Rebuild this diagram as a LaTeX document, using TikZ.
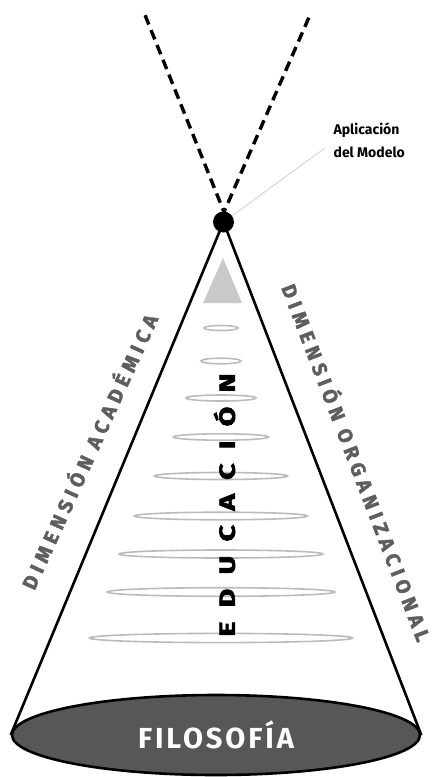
\documentclass[tikz,border=0pt]{standalone}
\usepackage{fontspec}
\setsansfont{Fira Sans}
\usetikzlibrary{positioning, shapes.geometric, calc}
\definecolor{cdark}{HTML}{575757}
\definecolor{cgrey}{HTML}{5E5E5E}
\definecolor{cring}{HTML}{BBBBBB}
\definecolor{ctri}{HTML}{C9C9C9}
\definecolor{cleader}{HTML}{CFCFCF}
\tikzset{
  every picture/.style={font=\sffamily, line width=1.2pt},
  cone/.style={draw=black, line width=2.6pt},
  dashline/.style={draw=black, line width=3.4pt, dash pattern=on 10pt off 6pt},
  ring/.style={draw=cring, line width=1.6pt},
  dimlabel/.style={font=\sffamily\bfseries\fontsize{20}{22}\selectfont\addfontfeature{LetterSpace=26, FakeBold=2}, text=cgrey},
  leader/.style={draw=cleader, line width=0.8pt},
  note/.style={font=\sffamily\bfseries\fontsize{14}{23}\selectfont, align=left, inner sep=2pt},
}

\begin{document}
\begin{tikzpicture}[x=1pt, y=-1pt]
  \useasboundingbox (0,0) rectangle (437,777);
  % rings inside the cone, top to bottom
  \foreach \y/\r/\h in {328/17/2.5, 361/20/2.8, 398/35/3, 437/47.5/3.2, 476/66.5/3.5,
      516/86.5/3.8, 554/102/4, 592/114/4.3, 638/131.5/4.6} {
    \draw[ring] (221,\y) ellipse [x radius=\r pt, y radius=\h pt];
  }
  \fill[ctri] (223,258) -- (242,303) -- (203,303) -- cycle;
  \node[rotate=90, xscale=1.3, font=\sffamily\bfseries\fontsize{22}{24}\selectfont\addfontfeature{LetterSpace=50, FakeBold=2.5}] (edu) at (224.5,505) {EDUCACIÓN};

  % base of the cone
  \node[ellipse, draw=black, line width=2.6pt, fill=cdark, minimum width=408pt, minimum height=80pt, text=white,
    font=\sffamily\bfseries\fontsize{29}{30}\selectfont\addfontfeature{LetterSpace=10}] (base) at (216,735) {FILOSOFÍA};

  % sides, the dashed lines above and the apex
  \coordinate (tip) at (223.5,222);
  \coordinate (cross) at (224,212);
  \coordinate (endL) at (145,15);
  \coordinate (endR) at (310,15);
  \draw[cone] (tip) -- (base.west);
  \draw[cone] (tip) -- (base.east);
  \draw[dashline, shorten <=-6pt] (cross) -- (endL);
  \draw[dashline, shorten <=-6pt] (cross) -- (endR);
  \node[circle, fill=black, inner sep=0pt, minimum size=21pt] (apex) at (tip) {};

  \node[note, anchor=west] (model) at (331,140) {Aplicación\\del Modelo};
  \draw[leader] (apex) -- ([xshift=-6pt, yshift=-8pt]model.west);

  \node[dimlabel, rotate=65.5] (acad) at (88,451) {DIMENSIÓN ACADÉMICA};
  \node[dimlabel, rotate=-69] (orga) at (358,462) {DIMENSIÓN ORGANIZACIONAL};
\end{tikzpicture}
\end{document}
